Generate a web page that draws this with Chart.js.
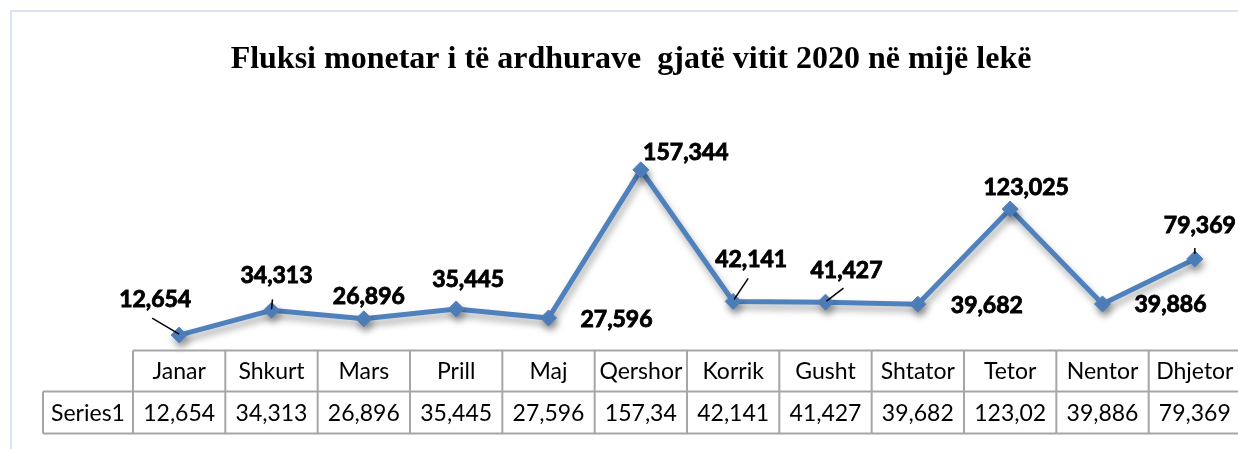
<!DOCTYPE html>
<html>
<head>
<meta charset="utf-8">
<script src="https://cdn.jsdelivr.net/npm/chart.js@4.4.0/dist/chart.umd.min.js"></script>
<style>
  html, body { margin: 0; padding: 0; background: #fff; overflow: hidden; }
  #wrap { position: relative; width: 1250px; height: 449px; }
</style>
</head>
<body>
<div id="wrap"><canvas id="cashChart" width="1250" height="449"></canvas></div>
<script>
// Data
const months = ["Janar", "Shkurt", "Mars", "Prill", "Maj", "Qershor", "Korrik", "Gusht", "Shtator", "Tetor", "Nentor", "Dhjetor"];
const seriesName = "Series1";
const income = [12654, 34313, 26896, 35445, 27596, 157344, 42141, 41427, 39682, 123025, 39886, 79369];
const chartTitle = "Fluksi monetar i të ardhurave  gjatë vitit 2020 në mijë lekë";

// hand-placed data labels (offset from marker) and their leader lines
const labelOffsets = [[-24, -35], [5, -35], [5, -22], [12, -29], [68, 2], [45, -17], [18, -42], [21, -32], [69, 1], [16, -21], [68, 1], [5, -33]];
const leaderLines = { 0: [-27, -17, 0, -1], 1: [1, -11, 0, -1], 6: [15, -23, 1, -2], 7: [18, -14, 1, -1], 11: [0, -11, 0, -5] };

const fmt = v => v.toLocaleString("en-US");
const gridColor = "#a6a6a6";

const decorPlugin = {
  id: "decor",
  beforeDraw(chart) {
    const ctx = chart.ctx;
    ctx.save();
    ctx.fillStyle = "#fff";
    ctx.fillRect(0, 0, chart.width, chart.height);
    // light frame of the chart object
    ctx.strokeStyle = "#d9e3f3";
    ctx.lineWidth = 2;
    ctx.beginPath();
    ctx.moveTo(11, chart.height);
    ctx.lineTo(11, 11);
    ctx.lineTo(chart.width, 11);
    ctx.stroke();
    // title
    ctx.fillStyle = "#000";
    ctx.font = "bold 32px 'Liberation Serif', 'Times New Roman', serif";
    ctx.textAlign = "center";
    ctx.textBaseline = "middle";
    ctx.fillText(chartTitle, 631, 60);
    ctx.restore();
  },
  beforeDatasetDraw(chart) {
    const ctx = chart.ctx;
    ctx.save();
    ctx.shadowColor = "rgba(0,0,0,0.35)";
    ctx.shadowBlur = 7;
    ctx.shadowOffsetX = 2;
    ctx.shadowOffsetY = 5;
  },
  afterDatasetDraw(chart) {
    chart.ctx.restore();
  },
  afterDatasetsDraw(chart) {
    const ctx = chart.ctx;
    const pts = chart.getDatasetMeta(0).data;
    ctx.save();
    // leader lines
    ctx.strokeStyle = "#000";
    ctx.lineWidth = 1.5;
    Object.keys(leaderLines).forEach(k => {
      const p = pts[k], l = leaderLines[k];
      ctx.beginPath();
      ctx.moveTo(p.x + l[0], p.y + l[1]);
      ctx.lineTo(p.x + l[2], p.y + l[3]);
      ctx.stroke();
    });
    // data labels (thin stroke to get the heavy Calibri bold look)
    ctx.fillStyle = "#000";
    ctx.lineWidth = 0.9;
    ctx.font = "bold 23px Lato, 'Open Sans', sans-serif";
    ctx.textAlign = "center";
    ctx.textBaseline = "middle";
    pts.forEach((p, i) => {
      const tx = p.x + labelOffsets[i][0], ty = p.y + labelOffsets[i][1];
      ctx.fillText(fmt(income[i]), tx, ty);
      ctx.strokeText(fmt(income[i]), tx, ty);
    });
    ctx.restore();
  },
  afterDraw(chart) {
    // data table under the plot
    const ctx = chart.ctx;
    const x = chart.scales.x;
    const area = chart.chartArea;
    const colW = x.getPixelForValue(1) - x.getPixelForValue(0);
    const top = Math.round(area.bottom) + 0.5;
    const mid = top + 41;
    const bot = mid + 42;
    const left = x.getPixelForValue(0) - colW / 2;
    const right = x.getPixelForValue(months.length - 1) + colW / 2;
    const seriesLeft = 43;
    ctx.save();
    ctx.strokeStyle = gridColor;
    ctx.lineWidth = 2;
    ctx.beginPath();
    ctx.moveTo(left, top); ctx.lineTo(right, top);
    ctx.moveTo(seriesLeft, mid); ctx.lineTo(right, mid);
    ctx.moveTo(seriesLeft, bot); ctx.lineTo(right, bot);
    ctx.moveTo(seriesLeft, mid); ctx.lineTo(seriesLeft, bot);
    for (let i = 0; i <= months.length; i++) {
      const cx = left + i * colW;
      ctx.moveTo(cx, top); ctx.lineTo(cx, bot);
    }
    ctx.stroke();

    ctx.fillStyle = "#000";
    ctx.font = "23px Lato, 'Open Sans', sans-serif";
    ctx.textAlign = "center";
    ctx.textBaseline = "middle";
    // numbers too wide for the cell get cut, as in the original table
    const fit = s => {
      while (ctx.measureText(s).width > colW - 12) s = s.slice(0, -1);
      return s;
    };
    months.forEach((m, i) => {
      const cx = x.getPixelForValue(i);
      ctx.fillText(m, cx, (top + mid) / 2 + 1);
      ctx.fillText(fit(fmt(income[i])), cx, (mid + bot) / 2 + 1);
    });
    ctx.fillText(seriesName, (seriesLeft + left) / 2, (mid + bot) / 2 + 1);
    ctx.restore();
  }
};

const ctx = document.getElementById("cashChart").getContext("2d");
const cashChart = new Chart(ctx, {
  type: "line",
  data: {
    labels: months,
    datasets: [{
      label: seriesName,
      data: income,
      borderColor: "#4f81bd",
      backgroundColor: "#4f81bd",
      borderWidth: 5,
      pointStyle: "rectRot",
      pointRadius: 8,
      pointBorderWidth: 1,
      pointBorderColor: "#4f81bd",
      pointBackgroundColor: "#4f81bd",
      tension: 0,
      clip: false
    }]
  },
  options: {
    responsive: false,
    animation: false,
    layout: { padding: { left: 133, right: 7, top: 144, bottom: 99.5 } },
    plugins: {
      legend: { display: false },
      title: { display: false },
      tooltip: { enabled: false }
    },
    scales: {
      x: { display: false, offset: true },
      y: { display: false, min: 0, max: 180000 }
    }
  },
  plugins: [decorPlugin]
});
</script>
</body>
</html>
